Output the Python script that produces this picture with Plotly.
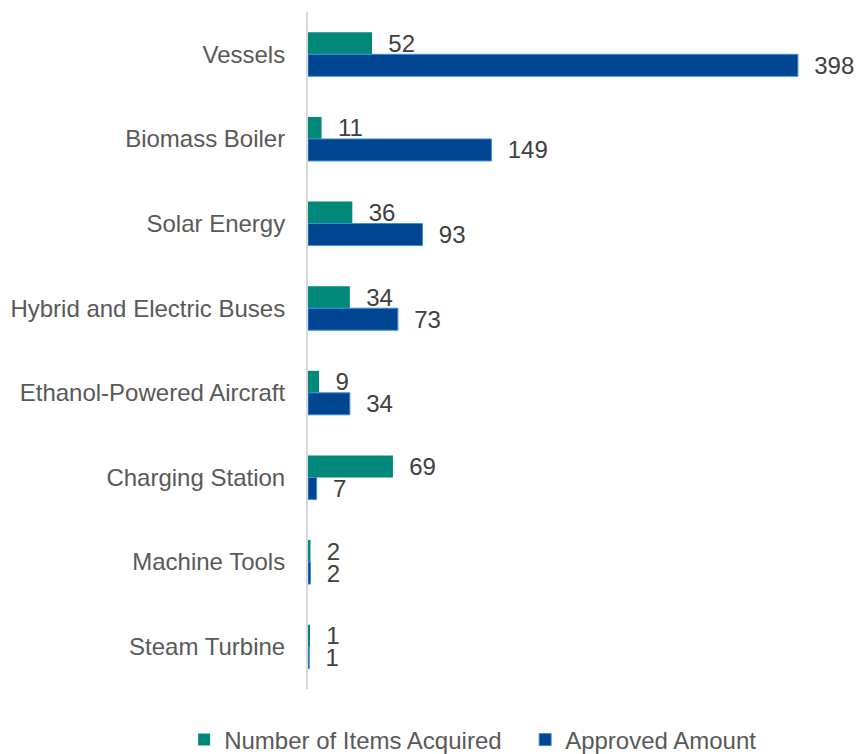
import plotly.graph_objects as go

categories = ["Vessels", "Biomass Boiler", "Solar Energy", "Hybrid and Electric Buses",
              "Ethanol-Powered Aircraft", "Charging Station", "Machine Tools", "Steam Turbine"]
items_acquired = [52, 11, 36, 34, 9, 69, 2, 1]
approved_amount = [398, 149, 93, 73, 34, 7, 2, 1]

FONT = "Liberation Sans, Arial, sans-serif"
TXT = "#595959"
FS = 24

fig = go.Figure()
fig.add_trace(go.Bar(
    y=categories, x=items_acquired, orientation="h", name="Number of Items Acquired",
    marker=dict(color="#00897A", line=dict(width=0)),
    text=["\u00a0\u00a0" + str(v) for v in items_acquired], textposition="outside",
    constraintext="none",
    textfont=dict(family=FONT, size=FS, color="#404040"), cliponaxis=False,
))
fig.add_trace(go.Bar(
    y=categories, x=approved_amount, orientation="h", name="Approved Amount",
    marker=dict(color="#00458F", line=dict(color="#3A8FE0", width=1)),
    text=["\u00a0\u00a0" + str(v) for v in approved_amount], textposition="outside",
    constraintext="none",
    textfont=dict(family=FONT, size=FS, color="#404040"), cliponaxis=False,
))

fig.update_layout(
    width=856, height=754,
    margin=dict(l=308, r=31, t=12, b=65, autoexpand=False),
    paper_bgcolor="white", plot_bgcolor="white",
    barmode="group", bargap=0.48, bargroupgap=0,
    font=dict(family=FONT, size=FS, color=TXT),
    showlegend=True,
    legend=dict(orientation="h", x=-0.2396, xanchor="left", y=-0.0753, yanchor="middle",
                font=dict(family=FONT, size=FS, color=TXT), traceorder="normal",
                itemwidth=30, entrywidth=296),
    xaxis=dict(range=[0, 420], showgrid=False, zeroline=False, showticklabels=False,
               showline=False, fixedrange=True),
    yaxis=dict(autorange="reversed", showgrid=False, zeroline=False, showline=True,
               linecolor="#D9D9D9", linewidth=2, ticks="", ticklabelstandoff=16,
               tickfont=dict(family=FONT, size=FS, color=TXT)),
)

fig.write_html("out.html")
